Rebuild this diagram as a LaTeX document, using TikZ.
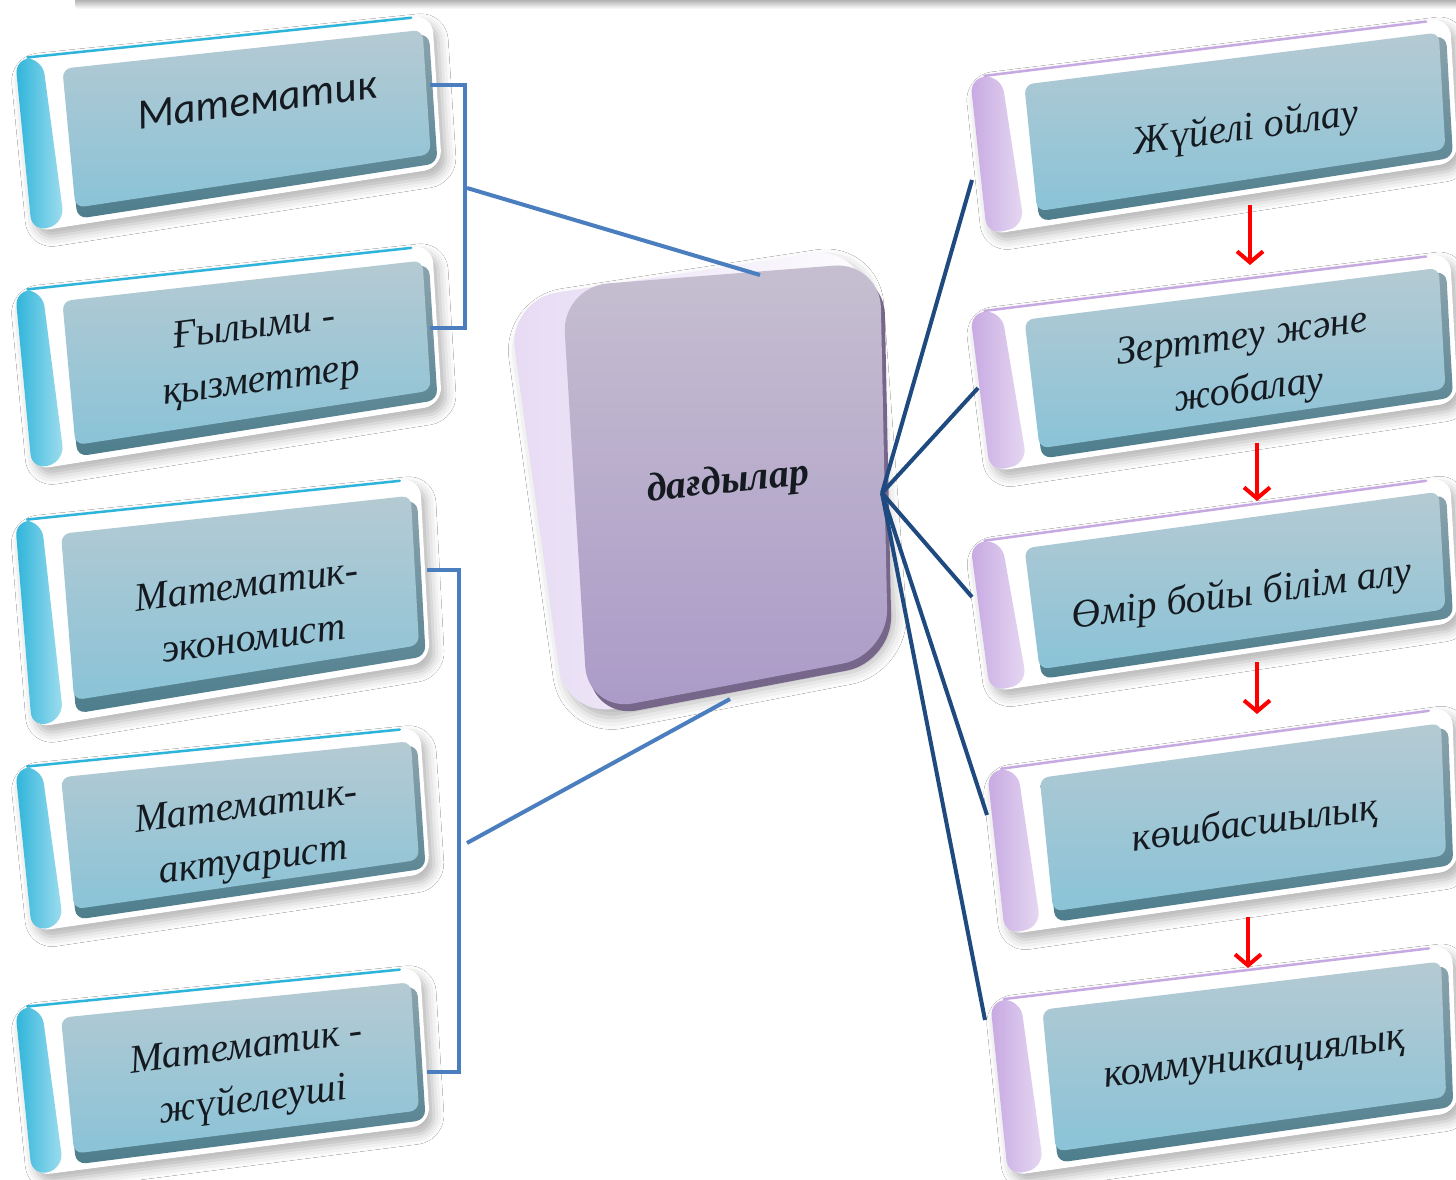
\documentclass[tikz,border=0pt]{standalone}
\usepackage{fontspec}
\setmainfont{Liberation Serif}
\newfontfamily\calibfont{Carlito}
\usetikzlibrary{calc,arrows.meta,shadows.blur}
\definecolor{sidecyan}{HTML}{2DB4DA}
\definecolor{sidelilac}{HTML}{C7A9E2}
\definecolor{facetop}{HTML}{B5CAD3}
\definecolor{facebot}{HTML}{8AC3D7}
\definecolor{edgeblue}{HTML}{4D7D8C}
\definecolor{edgegray}{HTML}{8AA3AD}
\definecolor{brk}{HTML}{4A7EBE}
\definecolor{navy}{HTML}{1F4A80}
\definecolor{ctop}{HTML}{C6BFD0}
\definecolor{cbot}{HTML}{AB9AC8}
\definecolor{cedge}{HTML}{75668A}
\definecolor{clil}{HTML}{DCCBEF}
\definecolor{ink}{HTML}{151A20}

\newcommand\bpt[4]{%
  \coordinate (tmpT) at ($(#1-A)!#2!(#1-B)$);
  \coordinate (tmpB) at ($(#1-D)!#2!(#1-C)$);
  \coordinate (#1-#4) at ($(tmpT)!#3!(tmpB)$);}

\newcommand\skbox[9]{%
  \coordinate (#1-A) at #2; \coordinate (#1-B) at #3;
  \coordinate (#1-C) at #4; \coordinate (#1-D) at #5;
  \bpt{#1}{0.112}{0.12}{e1}\bpt{#1}{0.99}{0.12}{e2}\bpt{#1}{0.99}{0.965}{e3}\bpt{#1}{0.112}{0.965}{e4}
  \bpt{#1}{0.065}{0.02}{s1}\bpt{#1}{0.08}{0.98}{s2}
  \bpt{#1}{0.11}{0.09}{f1}\bpt{#1}{0.975}{0.09}{f2}\bpt{#1}{0.975}{0.9}{f3}\bpt{#1}{0.11}{0.9}{f4}
  \bpt{#1}{0.03}{0.004}{t1}\bpt{#1}{0.95}{0.004}{t2}
  \fill[white, rounded corners=18, blur shadow={shadow xshift=5pt, shadow yshift=-7pt, shadow blur radius=10pt, shadow opacity=30}] (#1-A) -- (#1-B) -- (#1-C) -- (#1-D) -- cycle;
  \shade[top color=edgegray, bottom color=edgeblue, rounded corners=10] (#1-e1) -- (#1-e2) -- (#1-e3) -- (#1-e4) -- cycle;
  \shade[left color=#6, right color=#6!45!white, rounded corners=16] (#1-A) -- (#1-s1) -- (#1-s2) -- (#1-D) -- cycle;
  \draw[#6, line width=2.5, line cap=round] (#1-t1) -- (#1-t2);
  \shade[top color=facetop, bottom color=facebot, rounded corners=9] (#1-f1) -- (#1-f2) -- (#1-f3) -- (#1-f4) -- cycle;
  \node[boxtext, #8] (#1) at #7 {#9};}

\tikzset{
  boxtext/.style={text=ink, align=center, rotate=7.5, inner sep=0pt},
  tsans/.style={font=\calibfont\itshape\fontsize{43}{50}\selectfont},
  tser/.style={font=\itshape\fontsize{40}{54}\selectfont},
  ctext/.style={text=ink, rotate=6, inner sep=0pt, font=\bfseries\itshape\fontsize{40}{48}\selectfont},
  brline/.style={draw=brk, line width=4pt},
  navline/.style={draw=navy, line width=4pt},
  redarr/.style={draw=red, line width=4pt, -{Straight Barb[length=11pt,width=26pt]}}
}

\begin{document}
\begin{tikzpicture}[x=1pt, y=-1pt]
\useasboundingbox (0,0) rectangle (1456,1180);
\fill[white] (0,0) rectangle (1456,1180);
\clip (0,0) rectangle (1456,1180);

% top shadow stripe
\shade[top color=black!50, bottom color=white, rounded corners=4] (75,-6) rectangle (1460,9);

% centre box
\shade[left color=clil!70!white, right color=white, rounded corners=50,
  blur shadow={shadow xshift=6pt, shadow yshift=-8pt, shadow blur radius=12pt, shadow opacity=30}]
  (508,300) -- (862,246) -- (892,655) -- (566,718) -- cycle;
\fill[cedge, rounded corners=46] (566,294) -- (884,269) -- (892,662) -- (592,719) -- cycle;
\shade[top color=ctop, bottom color=cbot, rounded corners=46] (562,287) -- (880,262) -- (888,655) -- (588,712) -- cycle;
\node[ctext] (skills) at (728,483) {дағдылар};
\coordinate (cTop) at (760,275);
\coordinate (cBot) at (730,699);
\coordinate (cRight) at (882,493);

% left boxes
\skbox{L1}{(15,58)}{(432,15)}{(442,168)}{(32,232)}{sidecyan}{(257,100)}{tsans}{Математик}
\skbox{L2}{(15,290)}{(432,245)}{(442,405)}{(32,470)}{sidecyan}{(258,356)}{tser}{Ғылыми -\\қызметтер}
\skbox{L3}{(15,520)}{(420,478)}{(430,662)}{(32,728)}{sidecyan}{(250,611)}{tser}{Математик-\\экономист}
\skbox{L4}{(15,767)}{(420,727)}{(430,873)}{(32,932)}{sidecyan}{(250,836)}{tser}{Математик-\\актуарист}
\skbox{L5}{(15,1007)}{(420,967)}{(430,1125)}{(32,1176)}{sidecyan}{(250,1076)}{tser}{Математик -\\жүйелеуші}

% right boxes
\skbox{R1}{(970,77)}{(1450,18)}{(1458,162)}{(987,235)}{sidelilac}{(1246,130)}{tser}{Жүйелі ойлау}
\skbox{R2}{(970,312)}{(1450,253)}{(1458,402)}{(990,472)}{sidelilac}{(1246,366)}{tser}{Зерттеу және\\жобалау}
\skbox{R3}{(970,542)}{(1450,477)}{(1458,622)}{(990,692)}{sidelilac}{(1242,596)}{tser}{Өмір бойы білім алу}
\skbox{R4}{(987,770)}{(1452,707)}{(1458,870)}{(1005,935)}{sidelilac}{(1255,825)}{tser}{көшбасшылық}
\skbox{R5}{(990,1000)}{(1452,945)}{(1458,1112)}{(1008,1176)}{sidelilac}{(1255,1063)}{tser}{коммуникациялық}

% bracket coordinates
\coordinate (L1r) at (430,85);
\coordinate (L2r) at (430,328);
\coordinate (L3r) at (427,570);
\coordinate (L5r) at (427,1072);
\coordinate (b1) at (467,188);
\coordinate (b2) at (467,843);

\draw[brline] (L1r) -- (L1r -| 465,0) -- (L2r -| 465,0) -- (L2r);
\draw[brline] (L3r) -- (L3r -| 459,0) -- (L5r -| 459,0) -- (L5r);
\draw[brline] (b1) -- (cTop);
\draw[brline] (b2) -- (cBot);

% right connectors
\coordinate (R1l) at (972,180);
\coordinate (R2l) at (978,388);
\coordinate (R3l) at (972,597);
\coordinate (R4l) at (987,815);
\coordinate (R5l) at (985,1020);
\foreach \t in {R1l,R2l,R3l,R4l,R5l} \draw[navline] (cRight) -- (\t);

% red arrows
\coordinate (a1s) at (1250,205); \coordinate (a1e) at (1250,265);
\coordinate (a2s) at (1257,443); \coordinate (a2e) at (1257,501);
\coordinate (a3s) at (1257,662); \coordinate (a3e) at (1257,714);
\coordinate (a4s) at (1248,917); \coordinate (a4e) at (1248,968);
\draw[redarr] (a1s) -- (a1e);
\draw[redarr] (a2s) -- (a2e);
\draw[redarr] (a3s) -- (a3e);
\draw[redarr] (a4s) -- (a4e);
\end{tikzpicture}
\end{document}
